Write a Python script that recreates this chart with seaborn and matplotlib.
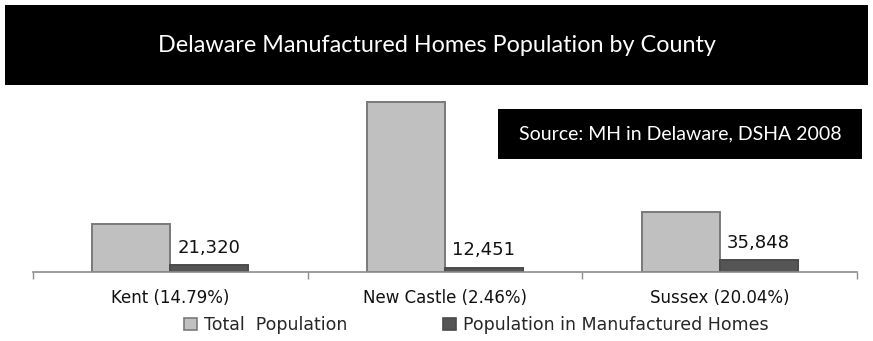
import matplotlib
matplotlib.use("Agg")
import matplotlib.pyplot as plt
from matplotlib.patches import Rectangle, Patch
import seaborn as sns
import pandas as pd

# Delaware population by county, 2008
counties = ["Kent", "New Castle", "Sussex"]
tick_labels = ["Kent (14.79%)", "New Castle (2.46%)", "Sussex (20.04%)"]
total_population = [144152, 506138, 178882]
mh_population = [21320, 12451, 35848]
series_names = ["Total  Population", "Population in Manufactured Homes"]

df = pd.DataFrame({
    "county": counties * 2,
    "series": [series_names[0]] * 3 + [series_names[1]] * 3,
    "value": total_population + mh_population,
})

sns.set_theme(style="white")
plt.rcParams["font.family"] = ["DejaVu Sans"]

W, H = 873, 341
fig = plt.figure(figsize=(W / 100, H / 100), dpi=100)
ax = fig.add_axes([33 / W, (H - 272) / H, 824 / W, 182 / H])

fill_colors = ["#c0c0c0", "#555555"]
edge_colors = ["#7a7a7a", "#4a4a4a"]

sns.barplot(data=df, x="county", y="value", hue="series", order=counties,
            hue_order=series_names, palette=fill_colors, width=0.567,
            saturation=1, legend=False, ax=ax)

for cont, ec in zip(ax.containers, edge_colors):
    for bar in cont:
        bar.set_edgecolor(ec)
        bar.set_linewidth(1.4)

ax.bar_label(ax.containers[1], labels=[f"{v:,}" for v in mh_population],
             padding=6, fontsize=13, color="#111111")

ax.set_ylim(0, max(total_population) * 182 / 170)
ax.set_xlim(-0.5, len(counties) - 0.5)
ax.set_xlabel("")
ax.set_ylabel("")
ax.set_yticks([])
ax.set_xticks(range(len(counties)))
ax.set_xticklabels(tick_labels, fontsize=12, color="#111111")
ax.set_xticks([-0.5, 0.5, 1.5, 2.5], minor=True)
ax.tick_params(axis="x", which="major", length=0, pad=12)
ax.tick_params(axis="x", which="minor", length=5, width=1, color="#8c8c8c",
               direction="out", bottom=True)
for side in ["left", "right", "top"]:
    ax.spines[side].set_visible(False)
ax.spines["bottom"].set_color("#8c8c8c")
ax.spines["bottom"].set_linewidth(1.2)

# Title banner
fig.patches.append(Rectangle((5 / W, (H - 85) / H), 863 / W, 80 / H,
                             transform=fig.transFigure, facecolor="black",
                             edgecolor="none", zorder=0))
fig.text(437 / W, (H - 45) / H, "Delaware Manufactured Homes Population by County",
         ha="center", va="center", color="white", fontsize=16.8, family="Lato")

# Source note
fig.patches.append(Rectangle((498 / W, (H - 159) / H), 364 / W, 50 / H,
                             transform=fig.transFigure, facecolor="black",
                             edgecolor="none", zorder=5))
fig.text(680 / W, (H - 134) / H, "Source: MH in Delaware, DSHA 2008",
         ha="center", va="center", color="white", fontsize=14, family="Lato",
         zorder=6)

handles = [Patch(facecolor=fc, edgecolor=ec, linewidth=1.2)
           for fc, ec in zip(fill_colors, edge_colors)]
fig.legend(handles, series_names, loc="center", bbox_to_anchor=(476 / W, 16 / H),
           ncol=2, frameon=False, fontsize=12.5, handlelength=0.75,
           handleheight=0.75, handletextpad=0.4, columnspacing=5.5)

fig.savefig("out.png", dpi=100)
